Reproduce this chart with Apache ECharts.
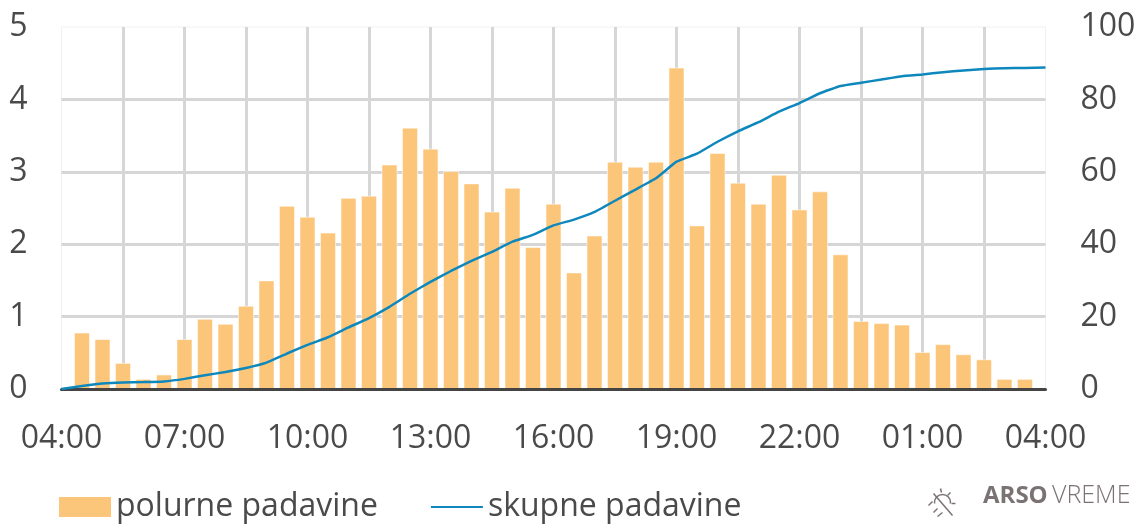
<!DOCTYPE html>
<html>
<head>
<meta charset="utf-8">
<title>padavine</title>
<script src="https://cdn.jsdelivr.net/npm/echarts@6/dist/echarts.min.js"></script>
<style>
  html, body { margin: 0; padding: 0; background: #fff; }
  #chart { width: 1140px; height: 525px; }
</style>
</head>
<body>
<div id="chart"></div>
<script>
const hours = [
  "04:00","04:30","05:00","05:30","06:00","06:30","07:00","07:30","08:00","08:30",
  "09:00","09:30","10:00","10:30","11:00","11:30","12:00","12:30","13:00","13:30",
  "14:00","14:30","15:00","15:30","16:00","16:30","17:00","17:30","18:00","18:30",
  "19:00","19:30","20:00","20:30","21:00","21:30","22:00","22:30","23:00","23:30",
  "00:00","00:30","01:00","01:30","02:00","02:30","03:00","03:30","04:00"
];
const polurne = [
  null,0.78,0.69,0.36,0.14,0.20,0.69,0.97,0.90,1.15,
  1.50,2.53,2.38,2.16,2.64,2.67,3.10,3.61,3.32,3.01,
  2.84,2.45,2.78,1.96,2.56,1.61,2.12,3.14,3.07,3.14,
  4.44,2.26,3.26,2.85,2.56,2.96,2.48,2.73,1.86,0.94,
  0.91,0.89,0.51,0.62,0.48,0.41,0.14,0.14,null
];
const skupne = [
  0,0.8,1.5,1.8,1.9,2.1,2.8,3.8,4.7,5.8,
  7.3,9.8,12.2,14.3,17.0,19.6,22.7,26.3,29.6,32.6,
  35.4,37.9,40.7,42.6,45.2,46.8,48.9,52.0,55.1,58.2,
  62.8,65.0,68.3,71.2,73.7,76.6,79.0,81.7,83.7,84.6,
  85.5,86.4,86.9,87.5,88.0,88.4,88.6,88.7,88.8
];

const textColor = "#4a4a4a";
const gridColor = "#d6d6d6";
const logoColor = "#7b7274";
const font = "Open Sans";

const chart = echarts.init(document.getElementById("chart"));

chart.setOption({
  animation: false,
  textStyle: { fontFamily: font },
  grid: {
    left: 61.5, right: 94.5, top: 27, bottom: 136,
    show: true, backgroundColor: "transparent", borderColor: "#f0f0f0", borderWidth: 1
  },
  legend: {
    left: 54, top: 486, itemWidth: 52, itemHeight: 20, itemGap: 52,
    textStyle: { fontSize: 32, color: textColor, fontFamily: font },
    data: [
      { name: "polurne padavine", icon: "rect", itemStyle: { borderWidth: 0 } },
      { name: "skupne padavine", itemStyle: { opacity: 0 } }
    ]
  },
  xAxis: [
    {
      type: "category",
      data: hours,
      boundaryGap: false,
      axisLine: { show: false },
      axisTick: { show: false },
      axisLabel: { interval: 5, fontSize: 32, color: textColor, margin: 34 },
      splitLine: {
        show: true, interval: 2, showMinLine: false, showMaxLine: false,
        lineStyle: { color: gridColor, width: 3 }
      }
    },
    {
      // baseline only, has to sit on top of the bars
      type: "category",
      data: hours,
      position: "bottom",
      boundaryGap: false,
      z: 5,
      axisLine: { lineStyle: { color: "#444", width: 3 } },
      axisTick: { show: false },
      axisLabel: { show: false },
      splitLine: { show: false }
    }
  ],
  yAxis: [
    {
      type: "value", min: 0, max: 5, interval: 1,
      axisLine: { show: false }, axisTick: { show: false },
      axisLabel: { fontSize: 32, color: textColor, margin: 34, padding: [3, 0, 0, 0] },
      splitLine: { show: true, showMaxLine: false, lineStyle: { color: gridColor, width: 3 } }
    },
    {
      type: "value", min: 0, max: 100, interval: 20,
      axisLine: { show: false }, axisTick: { show: false },
      axisLabel: { fontSize: 32, color: textColor, margin: 35, padding: [3, 0, 0, 0] },
      splitLine: { show: false }
    }
  ],
  series: [
    {
      name: "polurne padavine",
      type: "bar",
      barWidth: 16,
      data: polurne,
      itemStyle: { color: "#fcc67a", borderColor: "rgba(255,255,255,0.5)", borderWidth: 1 }
    },
    {
      name: "skupne padavine",
      type: "line",
      yAxisIndex: 1,
      data: skupne,
      smooth: 0.1,
      symbol: "none",
      z: 6,
      lineStyle: { color: "#0e88bc", width: 2.5 },
      itemStyle: { color: "#0e88bc" }
    }
  ],
  graphic: [
    {
      type: "group", left: 926, top: 486,
      children: [
        { type: "circle", shape: { cx: 14, cy: 14, r: 8 }, style: { fill: "none", stroke: logoColor, lineWidth: 1.5 } },
        { type: "rect", shape: { x: 0, y: 15, width: 28, height: 14 }, style: { fill: "#fff" } },
        { type: "line", shape: { x1: 5, y1: 5, x2: 24, y2: 27 }, style: { stroke: logoColor, lineWidth: 1.5 } },
        { type: "line", shape: { x1: 12, y1: 0, x2: 13, y2: 4 }, style: { stroke: logoColor, lineWidth: 1.5 } },
        { type: "line", shape: { x1: 22, y1: 4, x2: 19, y2: 7 }, style: { stroke: logoColor, lineWidth: 1.5 } },
        { type: "line", shape: { x1: 23, y1: 15, x2: 27, y2: 15 }, style: { stroke: logoColor, lineWidth: 1.5 } },
        { type: "line", shape: { x1: 0, y1: 17, x2: 4, y2: 13 }, style: { stroke: logoColor, lineWidth: 1.5 } },
        { type: "line", shape: { x1: 5, y1: 24, x2: 9, y2: 20 }, style: { stroke: logoColor, lineWidth: 1.5 } },
        { type: "line", shape: { x1: 9, y1: 28, x2: 14, y2: 24 }, style: { stroke: logoColor, lineWidth: 1.5 } }
      ]
    },
    {
      type: "text", left: 983, top: 484,
      style: { text: "ARSO", fontFamily: font, fontWeight: "bold", fontSize: 24, fill: logoColor }
    },
    {
      type: "text", left: 1052, top: 483,
      style: { text: "VREME", fontFamily: font, fontWeight: 300, fontSize: 25, fill: logoColor }
    }
  ]
});
</script>
</body>
</html>
